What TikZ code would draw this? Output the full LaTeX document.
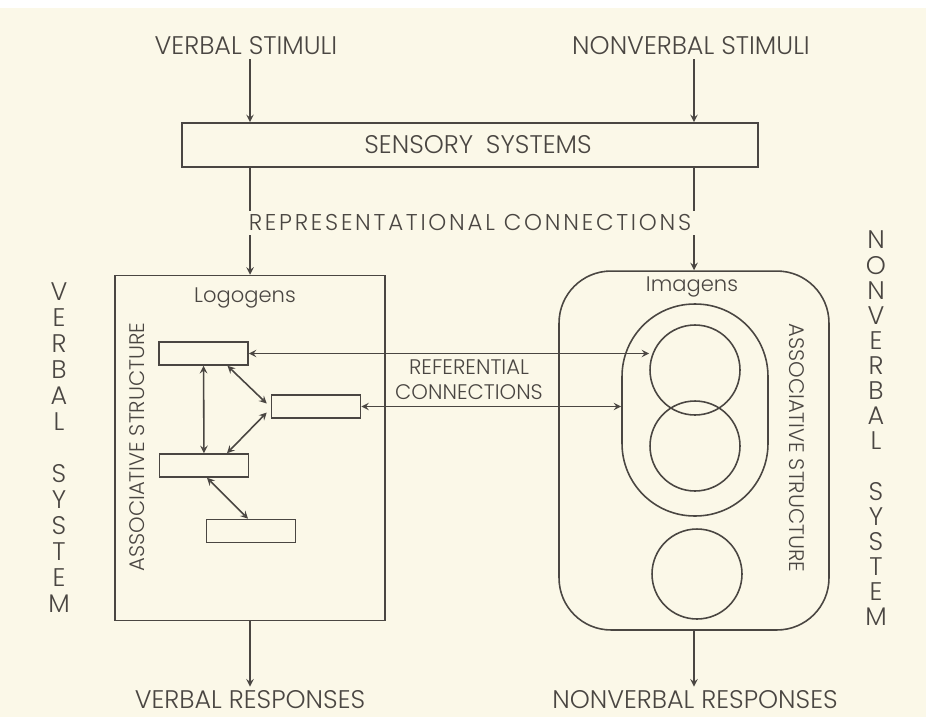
\documentclass[tikz,border=0pt]{standalone}
\usepackage{fontspec}
\setmainfont{Poppins}[UprightFont=* Light]
\usetikzlibrary{arrows}
\definecolor{paper}{HTML}{FBF8E8}
\definecolor{ink}{HTML}{4A4642}

\begin{document}
\begin{tikzpicture}[x=0.02cm, y=-0.02cm, >=stealth, color=ink, line width=0.9pt]
        \tikzset{box/.style={draw, inner sep=0, minimum width=1.78cm, minimum height=0.46cm},
                 bigbox/.style={draw, inner sep=0, minimum width=5.4cm},
                 lbl/.style={inner sep=2pt, font=\fontsize{14.5}{17}\selectfont},
                 sml/.style={inner sep=2pt, font=\fontsize{12}{14.4}\selectfont}}

        \fill[paper] (0,0) rectangle (926,717);
        \fill[white] (0,0) rectangle (926,8);

        \node[lbl] (vstim) at (246,46) {VERBAL STIMULI};
        \node[lbl] (nstim) at (691,46) {NONVERBAL STIMULI};
        \node[draw, inner sep=0, minimum width=11.52cm, minimum height=0.88cm,
              font=\fontsize{14.5}{17}\selectfont] (sens) at (470,145) {\hspace{0.32cm}SENSORY\enspace SYSTEMS};
        \node[lbl, font=\fontsize{13}{15}\selectfont\addfontfeature{LetterSpace=12}] (repconn) at (470,223) {REPRESENTATIONAL CONNECTIONS};

        \node[bigbox, minimum height=6.9cm] (logo) at (250,448) {};
        \node[bigbox, minimum height=7.18cm, rounded corners=1.04cm] (imag) at (694,450.5) {};
        \node[sml] (logolbl) at (245,298) {Logogens};
        \node[sml] (imaglbl) at (692,287) {Imagens};
        \node[sml, rotate=90] (vassoc) at (137,447) {ASSOCIATIVE STRUCTURE};
        \node[sml, rotate=-90] (nassoc) at (797,448) {ASSOCIATIVE STRUCTURE};

        \node[box] (r1) at (203.5,353.5) {};
        \node[box] (r2) at (316,406.5) {};
        \node[box] (r3) at (204,465.5) {};
        \node[box] (r4) at (251,531) {};

        \node[draw, inner sep=0, minimum width=2.92cm, minimum height=4.24cm, rounded corners=1.45cm] (stad) at (695,410) {};
        \node[draw, circle, inner sep=0, minimum size=1.8cm] (c1) at (695,370) {};
        \node[draw, circle, inner sep=0, minimum size=1.8cm] (c2) at (695,446) {};
        \node[draw, circle, inner sep=0, minimum size=1.8cm] (c3) at (697,574) {};

        \node[sml, align=center] (refconn) at (469,380) {REFERENTIAL\\CONNECTIONS};

        \node[inner sep=0, align=center, font=\fontsize{14.5}{14.8}\selectfont] (vsys) at (59,447.5)
            {V\\E\\R\\B\\A\\L\\[14.8pt]S\\Y\\S\\T\\E\\M};
        \node[inner sep=0, align=center, font=\fontsize{14.5}{14.3}\selectfont] (nsys) at (876,428.5)
            {N\\O\\N\\V\\E\\R\\B\\A\\L\\[14.3pt]S\\Y\\S\\T\\E\\M};

        \node[lbl] (vresp) at (250,700) {VERBAL RESPONSES};
        \node[lbl] (nresp) at (695,700) {NONVERBAL RESPONSES};

        \draw[->] (vstim.south -| logo.north) -- (sens.north -| logo.north);
        \draw[->] (nstim.south -| imag.north) -- (sens.north -| imag.north);
        \draw (sens.south -| logo.north) -- (repconn.north -| logo.north);
        \draw[->] (repconn.south -| logo.north) -- (logo.north);
        \draw (sens.south -| imag.north) -- (repconn.north -| imag.north);
        \draw[->] (repconn.south -| imag.north) -- (imag.north);

        \draw[<->] (r1) -- (r3);
        \draw[<->] ([xshift=0.48cm]r1.south) -- ([xshift=-0.08cm,yshift=0.06cm]r2.west);
        \draw[<->] ([xshift=-0.08cm,yshift=-0.12cm]r2.west) -- ([xshift=0.46cm]r3.north);
        \draw[<->] ([xshift=0.06cm]r3.south) -- ([xshift=-0.06cm]r4.north);
        \draw[<->] (r1.east) -- (r1.east -| c1.west);
        \draw[<->] (r2.east) -- (r2.east -| stad.west);

        \draw[->] (logo.south) -- (vresp.north -| logo.south);
        \draw[->] (imag.south) -- (nresp.north -| imag.south);
    \end{tikzpicture}
\end{document}
